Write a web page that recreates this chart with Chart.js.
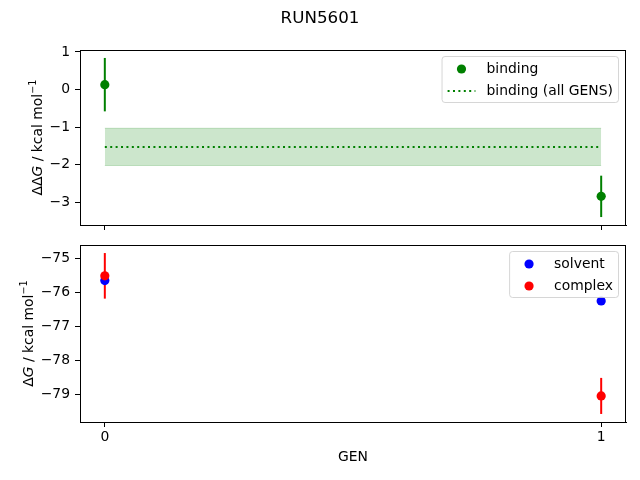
<!DOCTYPE html>
<html>
<head>
<meta charset="utf-8">
<script src="https://cdn.jsdelivr.net/npm/chart.js@4.4.1/dist/chart.umd.min.js"></script>
<style>
html,body{margin:0;padding:0;background:#fff;}
#wrap{position:relative;width:640px;height:480px;}
#wrap canvas{position:absolute;left:0;top:0;}
</style>
</head>
<body>
<div id="wrap">
<canvas id="top" width="640" height="480"></canvas>
<canvas id="bot" width="640" height="480"></canvas>
</div>
<script>
// ---- data ----
const figTitle = 'RUN5601';
const gens = [0, 1];
const genTicks = [0, 1];
const bindingDDG = [0.13, -2.84];
const bindingErr = [0.71, 0.55];
const bindingAll = -1.525;
const bindingAllErr = 0.495;
const solventDG = [-75.66, -76.26];
const solventErr = [0.08, 0.08];
const complexDG = [-75.52, -79.05];
const complexErr = [0.67, 0.53];
const topYTicks = [-3, -2, -1, 0, 1];
const botYTicks = [-79, -78, -77, -76, -75];
const xLabel = 'GEN';

// ---- helpers ----
const FONT = 'DejaVu Sans';
const FS = 13.9;
const MR = 4.6;
const fmt = v => (v < 0 ? '\u2212' + Math.abs(v) : String(v));
function limits(vals, errs, extra) {
  let lo = Infinity, hi = -Infinity;
  vals.forEach((v, i) => { lo = Math.min(lo, v - errs[i]); hi = Math.max(hi, v + errs[i]); });
  (extra || []).forEach(v => { lo = Math.min(lo, v); hi = Math.max(hi, v); });
  const m = (hi - lo) * 0.05;
  return [lo - m, hi + m];
}
function errDatasets(vals, errs, color, order) {
  return vals.map((v, i) => ({
    data: [{x: gens[i], y: v - errs[i]}, {x: gens[i], y: v + errs[i]}],
    borderColor: color, borderWidth: 2, pointRadius: 0, showLine: true,
    fill: false, order: order, borderCapStyle: 'butt'
  }));
}
function pointDataset(vals, color, label, order) {
  return {
    label: label,
    data: vals.map((v, i) => ({x: gens[i], y: v})),
    showLine: false, pointRadius: MR, pointHoverRadius: MR,
    pointBackgroundColor: color, pointBorderColor: color, pointBorderWidth: 0,
    borderColor: color, order: order
  };
}
function yScale(lim, ticks) {
  return {
    type: 'linear', min: lim[0], max: lim[1],
    afterBuildTicks: s => { s.ticks = ticks.map(v => ({value: v})); },
    afterFit: s => { s.width = 80; },
    grid: {drawOnChartArea: false, drawTicks: true, tickLength: 5, color: '#000', lineWidth: 1},
    border: {display: true, color: '#000', width: 1},
    ticks: {font: {family: FONT, size: FS}, color: '#000', padding: 5, callback: fmt}
  };
}
function xScale(showLabels, height) {
  const s = {
    type: 'linear', min: -0.05, max: 1.05,
    afterBuildTicks: sc => { sc.ticks = genTicks.map(v => ({value: v})); },
    afterFit: sc => { sc.height = height; },
    grid: {drawOnChartArea: false, drawTicks: true, tickLength: 5, color: '#000', lineWidth: 1},
    border: {display: true, color: '#000', width: 1},
    ticks: {display: showLabels, font: {family: FONT, size: FS}, color: '#000', padding: 2, maxRotation: 0, callback: fmt}
  };
  if (showLabels) {
    s.title = {display: true, text: xLabel, font: {family: FONT, size: FS}, color: '#000', padding: {top: 0, bottom: 14.7}};
  }
  return s;
}
function drawRichLabel(ctx, parts, x, cy) {
  ctx.save();
  const fontOf = p => (p.italic ? 'italic ' : '') + (p.sup ? (FS * 0.7).toFixed(1) : FS) + 'px "' + FONT + '"';
  let total = 0;
  parts.forEach(p => { ctx.font = fontOf(p); p.w = ctx.measureText(p.t).width; total += p.w; });
  ctx.translate(x, cy);
  ctx.rotate(-Math.PI / 2);
  ctx.fillStyle = '#000';
  ctx.textBaseline = 'alphabetic';
  ctx.textAlign = 'left';
  let cx = -total / 2;
  parts.forEach(p => {
    ctx.font = fontOf(p);
    ctx.fillText(p.t, cx, p.sup ? -6 : 0);
    cx += p.w;
  });
  ctx.restore();
}
function decorPlugin(cfg) {
  return {
    id: 'decor',
    afterDatasetsDraw(chart) {
      const ctx = chart.ctx, a = chart.chartArea;
      ctx.save();
      // frame
      ctx.strokeStyle = '#000';
      ctx.lineWidth = 1;
      ctx.strokeRect(Math.round(a.left) + 0.5, Math.round(a.top) + 0.5, Math.round(a.right - a.left) - 1, Math.round(a.bottom - a.top));
      // legend
      const fsz = FS;
      ctx.font = fsz + 'px "' + FONT + '"';
      let maxW = 0;
      cfg.legend.forEach(e => { maxW = Math.max(maxW, ctx.measureText(e.label).width); });
      const bp = 0.4 * fsz, hl = 2.0 * fsz, htp = 0.8 * fsz;
      const w = 2 * bp + hl + htp + maxW;
      const h = 46;
      const right = a.right - 7.5, topY = a.top + 6.5;
      const left = right - w;
      ctx.beginPath();
      ctx.roundRect(left, topY, w, h, 3);
      ctx.fillStyle = 'rgba(255,255,255,0.8)';
      ctx.fill();
      ctx.strokeStyle = 'rgba(204,204,204,0.8)';
      ctx.lineWidth = 1;
      ctx.stroke();
      cfg.legend.forEach((e, i) => {
        const yy = topY + 12.5 + i * 22;
        const hx = left + bp;
        if (e.kind === 'dot') {
          ctx.beginPath();
          ctx.arc(hx + hl / 2, yy, MR, 0, Math.PI * 2);
          ctx.fillStyle = e.color;
          ctx.fill();
        } else {
          ctx.beginPath();
          ctx.setLineDash([2, 3.4]);
          ctx.moveTo(hx, yy);
          ctx.lineTo(hx + hl, yy);
          ctx.strokeStyle = e.color;
          ctx.lineWidth = 2;
          ctx.stroke();
          ctx.setLineDash([]);
        }
        ctx.fillStyle = '#000';
        ctx.textBaseline = 'middle';
        ctx.textAlign = 'left';
        ctx.fillText(e.label, hx + hl + htp, yy);
      });
      ctx.restore();
    },
    afterDraw(chart) {
      const ctx = chart.ctx;
      drawRichLabel(ctx, cfg.ylabel, cfg.ylabelX, (chart.chartArea.top + chart.chartArea.bottom) / 2);
      if (cfg.title) {
        ctx.save();
        ctx.font = '16.7px "' + FONT + '"';
        ctx.fillStyle = '#000';
        ctx.textAlign = 'center';
        ctx.textBaseline = 'alphabetic';
        ctx.fillText(cfg.title, 320, 22.5);
        ctx.restore();
      }
    }
  };
}

// ---- top chart ----
const topLim = limits(bindingDDG, bindingErr, [bindingAll - bindingAllErr, bindingAll + bindingAllErr]);
const bandLo = gens.map(g => ({x: g, y: bindingAll - bindingAllErr}));
const bandHi = gens.map(g => ({x: g, y: bindingAll + bindingAllErr}));
const allLine = gens.map(g => ({x: g, y: bindingAll}));
new Chart(document.getElementById('top'), {
  type: 'line',
  data: {
    datasets: [
      {data: bandLo, borderColor: 'rgba(0,128,0,0.2)', borderWidth: 1, pointRadius: 0, fill: false, order: 20},
      {data: bandHi, borderColor: 'rgba(0,128,0,0.2)', borderWidth: 1, pointRadius: 0, fill: '-1', backgroundColor: 'rgba(0,128,0,0.2)', order: 19},
      {label: 'binding (all GENS)', data: allLine, borderColor: '#008000', borderWidth: 2, borderDash: [2, 3.4], pointRadius: 0, fill: false, order: 18},
      ...errDatasets(bindingDDG, bindingErr, '#008000', 10),
      pointDataset(bindingDDG, '#008000', 'binding', 1)
    ]
  },
  options: {
    responsive: false, animation: false, devicePixelRatio: 1,
    layout: {padding: {left: 0, right: 14, top: 50, bottom: 235}},
    plugins: {legend: {display: false}, tooltip: {enabled: false}},
    scales: {x: xScale(false, 20), y: yScale(topLim, topYTicks)}
  },
  plugins: [decorPlugin({
    title: figTitle,
    ylabel: [{t: '\u0394\u0394'}, {t: 'G', italic: true}, {t: ' / kcal mol'}, {t: '\u22121', sup: true}],
    ylabelX: 41.5,
    legend: [{kind: 'dot', color: '#008000', label: 'binding'}, {kind: 'dots', color: '#008000', label: 'binding (all GENS)'}]
  })]
});

// ---- bottom chart ----
const botLim = limits(solventDG.concat(complexDG), solventErr.concat(complexErr));
new Chart(document.getElementById('bot'), {
  type: 'line',
  data: {
    datasets: [
      ...errDatasets(solventDG, solventErr, '#0000ff', 20),
      ...errDatasets(complexDG, complexErr, '#ff0000', 15),
      pointDataset(solventDG, '#0000ff', 'solvent', 5),
      pointDataset(complexDG, '#ff0000', 'complex', 1)
    ]
  },
  options: {
    responsive: false, animation: false, devicePixelRatio: 1,
    layout: {padding: {left: 0, right: 14, top: 245, bottom: 0}},
    plugins: {legend: {display: false}, tooltip: {enabled: false}},
    scales: {x: xScale(true, 58), y: yScale(botLim, botYTicks)}
  },
  plugins: [decorPlugin({
    ylabel: [{t: '\u0394'}, {t: 'G', italic: true}, {t: ' / kcal mol'}, {t: '\u22121', sup: true}],
    ylabelX: 32.7,
    legend: [{kind: 'dot', color: '#0000ff', label: 'solvent'}, {kind: 'dot', color: '#ff0000', label: 'complex'}]
  })]
});
</script>
</body>
</html>
